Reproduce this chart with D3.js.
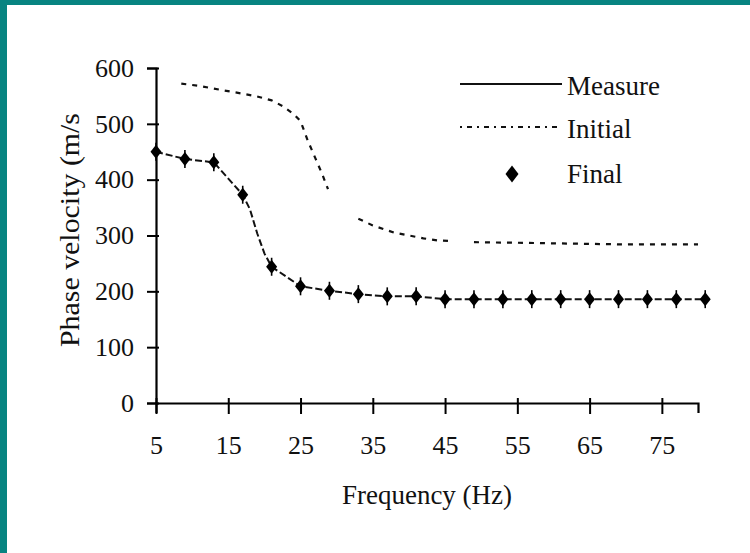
<!DOCTYPE html>
<html>
<head>
<meta charset="utf-8">
<script src="https://cdn.jsdelivr.net/npm/d3@7"></script>
<style>
  html, body { margin: 0; padding: 0; background: #ffffff; }
  svg { display: block; }
  text { font-family: "Liberation Serif", "Times New Roman", serif; fill: #111; }
</style>
</head>
<body>
<svg id="chart" width="750" height="553"></svg>
<script>
// Dispersion curves: phase velocity vs frequency
const finalFreq = [5, 9, 13, 17, 21, 25, 29, 33, 37, 41, 45, 49, 53, 57, 61, 65, 69, 73, 77, 81];
const finalVel  = [450, 437, 431, 373, 244, 209, 201, 195, 191, 191, 186, 186, 186, 186, 186, 186, 186, 186, 186, 186];

const measureFreq = [5, 9, 13, 17, 18, 19, 20, 21, 25, 29, 33, 37, 41, 45, 49, 53, 57, 61, 65, 69, 73, 77, 81];
const measureVel  = [450, 437, 431, 373, 347, 304, 268, 244, 209, 201, 195, 191, 191, 186, 186, 186, 186, 186, 186, 186, 186, 186, 186];

// null marks a break in the initial-model curve
const initialFreq = [8.5, 11, 13, 17, 19, 21, 22.5, 24, 25, 26, 27, 28, 28.8, 31, 33, 35, 38, 40, 42, 44, 46, 47.5, 49, 55, 60, 65, 70, 75, 80];
const initialVel  = [572, 568, 563, 554, 549, 542, 532, 518, 505, 470, 440, 410, 383, null, 330, 318, 305, 300, 295, 291, 290, null, 288, 287, 286, 285, 284, 284, 284];

const xTicks = [5, 15, 25, 35, 45, 55, 65, 75];
const yTicks = [0, 100, 200, 300, 400, 500, 600];

const legendLabels = ["Measure", "Initial", "Final"];
const xTitle = "Frequency (Hz)";
const yTitle = "Phase velocity (m/s";

const svg = d3.select("#chart");

// teal frame on the left and top edges
svg.append("rect").attr("x", 0).attr("y", 0).attr("width", 750).attr("height", 5).attr("fill", "#078481");
svg.append("rect").attr("x", 0).attr("y", 0).attr("width", 7).attr("height", 553).attr("fill", "#078481");

const x = d3.scaleLinear().domain([5, 80]).range([156, 698]);
const y = d3.scaleLinear().domain([0, 600]).range([403, 68]);

// x axis with ticks crossing the line
const xAxis = svg.append("g")
  .attr("transform", `translate(0,${y(0)})`)
  .call(d3.axisBottom(x).tickValues(xTicks).tickSizeOuter(0).tickSize(10).tickPadding(23));
xAxis.select(".domain").attr("stroke", "#000").attr("stroke-width", 2.2);
xAxis.selectAll(".tick line").attr("y1", -5).attr("y2", 11).attr("stroke", "#000").attr("stroke-width", 2);
xAxis.selectAll(".tick text")
  .attr("font-size", 26).attr("font-family", "Liberation Serif").attr("fill", "#111");

// y axis
const yAxis = svg.append("g")
  .attr("transform", `translate(${x(5)},0)`)
  .call(d3.axisLeft(y).tickValues(yTicks).tickSizeOuter(0).tickSize(9).tickPadding(13));
yAxis.select(".domain").attr("stroke", "#000").attr("stroke-width", 2.2);
yAxis.selectAll(".tick line").attr("x1", 3).attr("x2", -9).attr("stroke", "#000").attr("stroke-width", 2);
yAxis.selectAll(".tick text")
  .attr("font-size", 26).attr("font-family", "Liberation Serif").attr("fill", "#111");

// axis titles
svg.append("text")
  .attr("x", 427).attr("y", 504)
  .attr("text-anchor", "middle").attr("font-size", 27)
  .attr("textLength", 170).attr("lengthAdjust", "spacingAndGlyphs")
  .text(xTitle);

svg.append("text")
  .attr("transform", "translate(79,230) rotate(-90)")
  .attr("text-anchor", "middle").attr("font-size", 27)
  .attr("textLength", 234).attr("lengthAdjust", "spacingAndGlyphs")
  .text(yTitle);

// initial model curve (dotted)
const initialData = initialFreq.map((f, i) => ({ f, v: initialVel[i] }));
svg.append("path")
  .datum(initialData)
  .attr("fill", "none").attr("stroke", "#111").attr("stroke-width", 2.2)
  .attr("stroke-dasharray", "5,6")
  .attr("d", d3.line().defined(d => d.v !== null).x(d => x(d.f)).y(d => y(d.v)));

// measured curve
const measureData = measureFreq.map((f, i) => ({ f, v: measureVel[i] }));
svg.append("path")
  .datum(measureData)
  .attr("fill", "none").attr("stroke", "#111").attr("stroke-width", 2)
  .attr("stroke-dasharray", "7,3")
  .attr("d", d3.line().x(d => x(d.f)).y(d => y(d.v)));

// final model points drawn as diamonds
const diamond = "M0,-7 L5.5,0 L0,7 L-5.5,0 Z";
const finalData = finalFreq.map((f, i) => ({ f, v: finalVel[i] }));
const marks = svg.append("g").selectAll("g.pt")
  .data(finalData).join("g").attr("class", "pt")
  .attr("transform", d => `translate(${x(d.f)},${y(d.v)})`);
marks.append("path").attr("d", diamond).attr("fill", "#000");
marks.append("line").attr("x1", 0).attr("x2", 0).attr("y1", -9).attr("y2", 9).attr("stroke", "#000").attr("stroke-width", 1.6);

// legend
const lg = svg.append("g");
lg.append("line").attr("x1", 460).attr("x2", 562).attr("y1", 84).attr("y2", 84)
  .attr("stroke", "#111").attr("stroke-width", 2);
lg.append("line").attr("x1", 460).attr("x2", 562).attr("y1", 127).attr("y2", 127)
  .attr("stroke", "#111").attr("stroke-width", 2).attr("stroke-dasharray", "2,5,5,5");
lg.append("g").attr("transform", "translate(512,174)")
  .call(g => {
    g.append("path").attr("d", "M0,-8.5 L6.5,0 L0,8.5 L-6.5,0 Z").attr("fill", "#000");
  });
const legendY = [95, 138, 183];
lg.selectAll("text.lbl").data(legendLabels).join("text").attr("class", "lbl")
  .attr("x", 567).attr("y", (d, i) => legendY[i])
  .attr("font-size", 27)
  .text(d => d);
</script>
</body>
</html>
